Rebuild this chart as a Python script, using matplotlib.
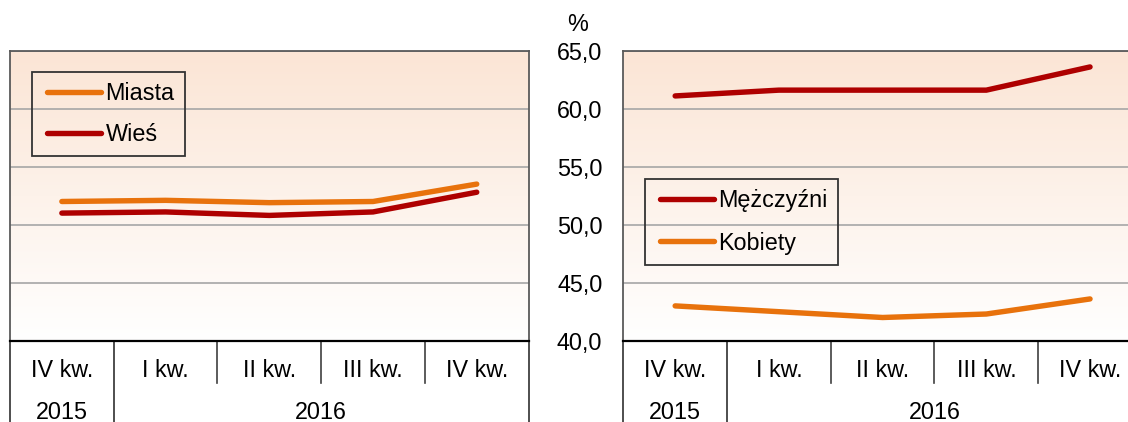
import numpy as np
import matplotlib
matplotlib.use("Agg")
import matplotlib.pyplot as plt
from matplotlib.lines import Line2D
from matplotlib.legend_handler import HandlerLine2D

quarters = ["IV kw.", "I kw.", "II kw.", "III kw.", "IV kw."]
year_groups = [("2015", 1), ("2016", 4)]

miasta = [52.0, 52.1, 51.9, 52.0, 53.5]
wies = [51.0, 51.1, 50.8, 51.1, 52.8]

mezczyzni = [61.1, 61.6, 61.6, 61.6, 63.6]
kobiety = [43.0, 42.5, 42.0, 42.3, 43.6]

y_ticks = [40, 45, 50, 55, 60, 65]

ORANGE = "#E8720C"
DARK_RED = "#AE0000"
FONT_SIZE = 16.8

plt.rcParams["font.family"] = ["Liberation Sans", "DejaVu Sans"]
plt.rcParams["font.size"] = FONT_SIZE

W, H = 1128, 422
fig = plt.figure(figsize=(W / 100, H / 100), dpi=100)

# plot areas in pixels: left, top, width, height
ax_left = fig.add_axes([10 / W, 1 - 340.7 / H, 518.6 / W, 290 / H])
ax_right = fig.add_axes([623.3 / W, 1 - 340.7 / H, 518.6 / W, 290 / H])

top_color = np.array([251, 229, 213]) / 255
bottom_color = np.array([255, 255, 255]) / 255
t = np.linspace(0, 1, 256)[:, None]
gradient = (top_color * (1 - t) + bottom_color * t)[:, None, :]


def style_panel(ax, show_ylabels):
    n = len(quarters)
    ax.set_xlim(-0.5, n - 0.5)
    ax.set_ylim(y_ticks[0], y_ticks[-1])
    ax.imshow(gradient, extent=[-0.5, n - 0.5, y_ticks[0], y_ticks[-1]],
              aspect="auto", origin="upper", zorder=0)
    ax.set_yticks(y_ticks)
    ax.set_yticklabels([f"{v:.1f}".replace(".", ",") for v in y_ticks])
    ax.yaxis.grid(True, color="#A6A6A6", linewidth=1.2)
    ax.set_axisbelow(True)
    ax.tick_params(axis="y", length=0, pad=15, labelleft=show_ylabels)
    ax.set_xticks(range(n))
    ax.set_xticklabels(quarters)
    ax.tick_params(axis="x", length=0, pad=13.5)
    for side in ("top", "left", "right"):
        ax.spines[side].set_color("#5A5A5A")
        ax.spines[side].set_linewidth(1.3)
    ax.spines["bottom"].set_color("#000000")
    ax.spines["bottom"].set_linewidth(1.6)

    # category dividers below the axis
    trans = ax.get_xaxis_transform()
    long_edges = {0}
    pos = 0
    for _, count in year_groups:
        pos += count
        long_edges.add(pos)
    for i in range(n + 1):
        y_end = -0.30 if i in long_edges else -0.1465
        color = "#303030" if i in long_edges else "#404040"
        ax.add_line(Line2D([i - 0.5, i - 0.5], [0, y_end], transform=trans,
                           color=color, linewidth=1.2, clip_on=False))

    start = 0
    for year, count in year_groups:
        center = start + (count - 1) / 2
        ax.text(center, -0.247, year, transform=trans, ha="center", va="center")
        start += count


style_panel(ax_left, False)
style_panel(ax_right, True)

x = np.arange(len(quarters))
line_kw = dict(linewidth=3.9, solid_capstyle="round", solid_joinstyle="round", zorder=3)

ax_left.plot(x, miasta, color=ORANGE, label="Miasta", **line_kw)
ax_left.plot(x, wies, color=DARK_RED, label="Wieś", **line_kw)

ax_right.plot(x, mezczyzni, color=DARK_RED, label="Mężczyźni", **line_kw)
ax_right.plot(x, kobiety, color=ORANGE, label="Kobiety", **line_kw)

fs_px = FONT_SIZE * 100 / 72
handler = HandlerLine2D(xpad=4.5 / fs_px)
legend_kw = dict(
    loc="upper left", borderaxespad=0, borderpad=0.45,
    handlelength=58.5 / fs_px, handletextpad=4.5 / fs_px,
    fancybox=False, frameon=True, framealpha=1,
    handler_map={Line2D: handler},
)

leg1 = ax_left.legend(bbox_to_anchor=((32 - 10) / 518.6, (340.7 - 72) / 290),
                      labelspacing=0.74, **legend_kw)
leg2 = ax_right.legend(bbox_to_anchor=((644.5 - 623.3) / 518.6, (340.7 - 179) / 290),
                       labelspacing=0.82, **legend_kw)
for leg in (leg1, leg2):
    frame = leg.get_frame()
    frame.set_facecolor("none")
    frame.set_edgecolor("#333333")
    frame.set_linewidth(1.3)

fig.text(578 / W, 1 - 24.5 / H, "%", ha="center", va="center")

fig.savefig("out.png", dpi=100)
